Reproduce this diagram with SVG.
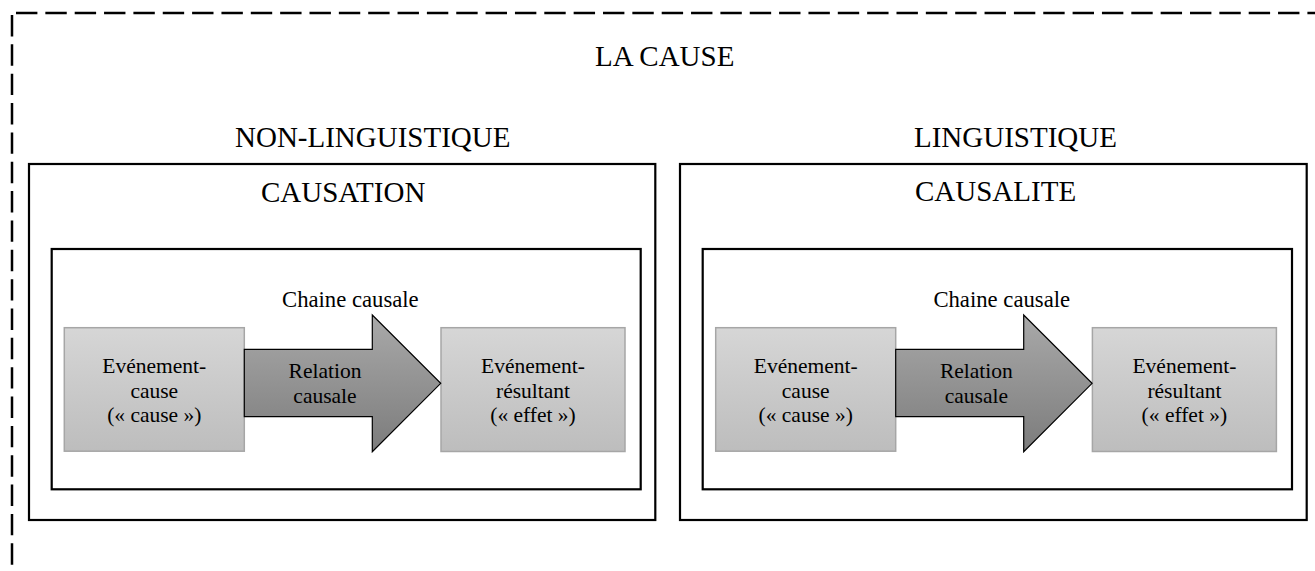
<svg xmlns="http://www.w3.org/2000/svg" width="1315" height="571" viewBox="0 0 1315 571">
  <style>
    text { font-family: "Liberation Serif", "Times New Roman", serif; fill: #000; }
    .h { font-size: 29px; }
    .t { font-size: 21.5px; text-anchor: middle; }
    .c { font-size: 22.7px; }
    .frame { fill: none; stroke: #000; stroke-width: 2.2; }
    .dash { fill: none; stroke: #000; stroke-width: 2.5; stroke-dasharray: 21.4 7.95; }
    .ev { fill: url(#gLight); stroke: #a6a6a6; stroke-width: 1.5; }
    .rel { fill: url(#gDark); stroke: #000; stroke-width: 1.2; stroke-linejoin: miter; }
  </style>
  <defs>
    <linearGradient id="gLight" x1="0" y1="0" x2="0" y2="1">
      <stop offset="0" stop-color="#d6d6d6"/>
      <stop offset="1" stop-color="#bdbdbd"/>
    </linearGradient>
    <linearGradient id="gDark" x1="0" y1="0" x2="0" y2="1">
      <stop offset="0" stop-color="#a9a9a9"/>
      <stop offset="1" stop-color="#7c7c7c"/>
    </linearGradient>
  </defs>

  <!-- dashed outer boundary (top and left sides) -->
  <g id="boundary">
    <line class="dash" x1="16" y1="13" x2="1315" y2="13"/>
    <line class="dash" x1="12" y1="15" x2="12" y2="571"/>
    <text class="h" x="595" y="66">LA CAUSE</text>
  </g>

  <g id="non-linguistique">
    <text class="h" x="235" y="147">NON-LINGUISTIQUE</text>
    <rect class="frame" x="29" y="164" width="626.3" height="356"/>
    <text class="h" x="261" y="202">CAUSATION</text>
    <rect class="frame" x="51.7" y="249" width="589" height="240.3"/>
  </g>

  <g id="linguistique">
    <text class="h" x="914" y="147">LINGUISTIQUE</text>
    <rect class="frame" x="680" y="164" width="626.7" height="356"/>
    <text class="h" x="915" y="201">CAUSALITE</text>
    <rect class="frame" x="702.7" y="249" width="589.3" height="240.3"/>
  </g>

  <!-- left panel chain -->
  <g id="cause-left">
    <rect class="ev" x="64.3" y="327.7" width="180" height="123.5"/>
    <text class="t" x="154.3" y="373">Evénement-</text>
    <text class="t" x="154.3" y="397.5">cause</text>
    <text class="t" x="154.3" y="422">(« cause »)</text>
  </g>
  <g id="effet-left">
    <rect class="ev" x="441" y="327.7" width="184" height="123.8"/>
    <text class="t" x="533" y="373">Evénement-</text>
    <text class="t" x="533" y="397.5">résultant</text>
    <text class="t" x="533" y="422">(« effet »)</text>
  </g>

  <!-- right panel chain -->
  <g id="cause-right">
    <rect class="ev" x="715.7" y="327.7" width="180" height="123.5"/>
    <text class="t" x="805.7" y="373">Evénement-</text>
    <text class="t" x="805.7" y="397.5">cause</text>
    <text class="t" x="805.7" y="422">(« cause »)</text>
  </g>
  <g id="effet-right">
    <rect class="ev" x="1092.4" y="327.7" width="184" height="123.8"/>
    <text class="t" x="1184.4" y="373">Evénement-</text>
    <text class="t" x="1184.4" y="397.5">résultant</text>
    <text class="t" x="1184.4" y="422">(« effet »)</text>
  </g>

  <!-- block arrows: relation causale -->
  <g id="connectors">
    <g id="relation-left">
      <text class="c" x="282" y="307">Chaine causale</text>
      <polygon class="rel" points="244.3,349.3 372.3,349.3 372.3,315 440.7,383.3 372.3,451.7 372.3,416.7 244.3,416.7"/>
      <text class="t" x="325" y="378">Relation</text>
      <text class="t" x="325" y="403">causale</text>
    </g>
    <g id="relation-right">
      <text class="c" x="933.4" y="307">Chaine causale</text>
      <polygon class="rel" points="895.7,349.3 1023.7,349.3 1023.7,315 1092.1,383.3 1023.7,451.7 1023.7,416.7 895.7,416.7"/>
      <text class="t" x="976.4" y="378">Relation</text>
      <text class="t" x="976.4" y="403">causale</text>
    </g>
  </g>
</svg>
